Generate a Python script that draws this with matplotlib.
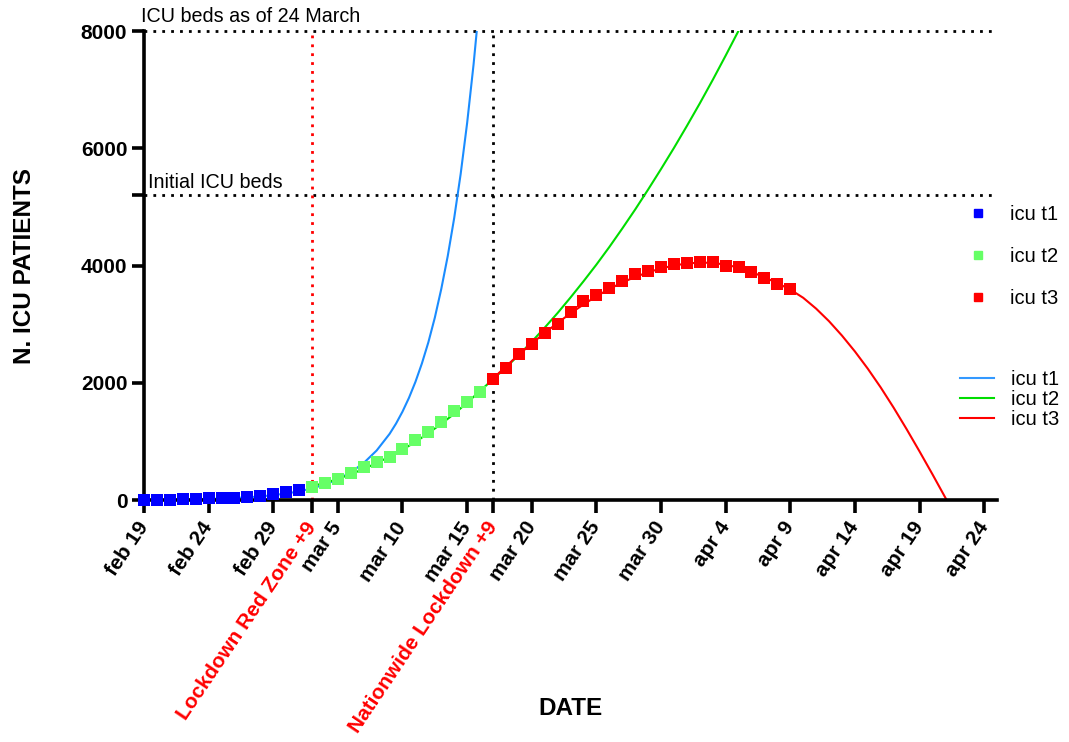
import matplotlib
matplotlib.use("Agg")
import matplotlib.pyplot as plt
from matplotlib.lines import Line2D

plt.rcParams['font.family'] = ['Liberation Sans', 'DejaVu Sans']

# day 0 = feb 19
days_t1 = list(range(0, 13))
icu_t1 = [0, 0, 0, 15, 26, 32, 35, 36, 46, 64, 100, 138, 166]
days_t2 = list(range(13, 27))
icu_t2 = [229, 295, 351, 462, 567, 650, 733, 877, 1028, 1153, 1328, 1518, 1672, 1851]
days_t3 = list(range(27, 51))
icu_t3 = [2060, 2257, 2498, 2655, 2857, 3009, 3204, 3396, 3489, 3612, 3732, 3856,
          3906, 3981, 4023, 4035, 4053, 4068, 3994, 3977, 3898, 3792, 3693, 3605]

# fitted curves
fit_t1_days = [0, 1, 2, 3, 4, 5, 6, 7, 8, 9, 10, 11, 12, 13, 14, 15, 16, 17, 18, 19,
               19.5, 20, 20.5, 21, 21.5, 22, 22.5, 23, 23.5, 24, 24.5, 25, 25.5, 26]
fit_t1 = [4.5, 6, 8, 11, 15, 20, 26, 35, 46, 62, 83, 111, 148, 198, 265, 354, 473, 632,
          845, 1128, 1304, 1508, 1743, 2015, 2329, 2690, 3110, 3600, 4161, 4810, 5561,
          6430, 7433, 8590]
fit_t2_days = list(range(13, 48))
fit_t2 = [240, 290, 360, 440, 530, 630, 740, 860, 990, 1140, 1300, 1470, 1660, 1860,
          2060, 2260, 2475, 2700, 2940, 3190, 3455, 3730, 4015, 4315, 4630, 4955, 5295,
          5645, 6005, 6380, 6765, 7165, 7580, 8005, 8440]
fit_t3_days = list(range(27, 63)) + [62.1]
fit_t3 = [2070, 2280, 2480, 2670, 2850, 3020, 3185, 3335, 3475, 3600, 3710, 3805, 3885,
          3950, 4000, 4035, 4050, 4045, 4015, 3965, 3890, 3800, 3700, 3590, 3450, 3265,
          3050, 2805, 2535, 2240, 1920, 1575, 1210, 830, 440, 40, 0]

tick_days = [0, 5, 10, 13, 15, 20, 25, 27, 30, 35, 40, 45, 50, 55, 60, 65]
tick_labels = ['feb 19', 'feb 24', 'feb 29', 'Lockdown Red Zone +9', 'mar 5', 'mar 10',
               'mar 15', 'Nationwide Lockdown +9', 'mar 20', 'mar 25', 'mar 30', 'apr 4',
               'apr 9', 'apr 14', 'apr 19', 'apr 24']
red_ticks = ['Lockdown Red Zone +9', 'Nationwide Lockdown +9']

beds_initial = 5200
beds_24march = 8000

fig = plt.figure(figsize=(10.69, 7.42), dpi=100)
ax = fig.add_axes([0.1347, 0.3261, 0.798, 0.6321])

dots = (0, (1, 2.2))
ax.axhline(beds_24march, color='black', ls=dots, lw=2, clip_on=False)
ax.axhline(beds_initial, color='black', ls=dots, lw=2)
ax.axvline(13, color='red', ls=dots, lw=2)
ax.axvline(27, color='black', ls=dots, lw=2)

ax.plot(fit_t1_days, fit_t1, color='#1a8cff', lw=1.5)
ax.plot(fit_t2_days, fit_t2, color='#00dd00', lw=1.5)
ax.plot(fit_t3_days, fit_t3, color='#ff0000', lw=1.5)

ax.plot(days_t1, icu_t1, 's', color='#0000ff', ms=9, mew=0, clip_on=False, zorder=5)
ax.plot(days_t2, icu_t2, 's', color='#66ff66', ms=9, mew=0, clip_on=False, zorder=5)
ax.plot(days_t3, icu_t3, 's', color='#ff0000', ms=9, mew=0, clip_on=False, zorder=5)

ax.text(-0.2, 8000 + 80, 'ICU beds as of 24 March', fontsize=14.2, ha='left', va='bottom')
ax.text(0.3, 5200 + 60, 'Initial ICU beds', fontsize=14.2, ha='left', va='bottom')

ax.set_xlim(0, 66)
ax.set_ylim(0, 8000)
for s in ['top', 'right']:
    ax.spines[s].set_visible(False)
for s in ['left', 'bottom']:
    ax.spines[s].set_linewidth(2.6)

ax.set_yticks([0, 2000, 4000, 5200, 6000, 8000])
ax.set_yticklabels(['0', '2000', '4000', '', '6000', '8000'], fontsize=15, fontweight='bold')
ax.set_xticks(tick_days)
ax.set_xticklabels(tick_labels, fontsize=15, fontweight='bold', rotation=56,
                   ha='right', va='center', rotation_mode='anchor')
for lab in ax.get_xticklabels():
    if lab.get_text() in red_ticks:
        lab.set_color('red')
ax.tick_params(axis='both', width=2.6, length=9, direction='out')
ax.tick_params(axis='x', pad=8)
ax.tick_params(axis='y', pad=3)

ax.set_ylabel('N. ICU PATIENTS', fontsize=17.5, fontweight='bold')
ax.set_xlabel('DATE', fontsize=17.5, fontweight='bold')
ax.xaxis.set_label_coords(0.5, -0.42)
ax.yaxis.set_label_coords(-0.127, 0.5)

mk = [Line2D([], [], marker='s', ls='none', color=c, ms=6)
      for c in ['#0000ff', '#66ff66', '#ff0000']]
ln = [Line2D([], [], color=c, lw=1.5) for c in ['#3399ff', '#00dd00', '#ff0000']]
names = ['icu t1', 'icu t2', 'icu t3']
leg1 = ax.legend(mk, names, loc='upper left', bbox_to_anchor=(968 / 1069, 1 - 205 / 742),
                 bbox_transform=fig.transFigure, frameon=False, fontsize=14.5,
                 handlelength=1.0, handletextpad=1.1, labelspacing=1.15,
                 borderpad=0, borderaxespad=0)
ax.add_artist(leg1)
ax.legend(ln, names, loc='upper left', bbox_to_anchor=(960 / 1069, 1 - 370 / 742),
          bbox_transform=fig.transFigure, frameon=False, fontsize=14.5,
          handlelength=1.7, handletextpad=0.85, labelspacing=0.05,
          borderpad=0, borderaxespad=0)

fig.savefig('out.png', dpi=100)
